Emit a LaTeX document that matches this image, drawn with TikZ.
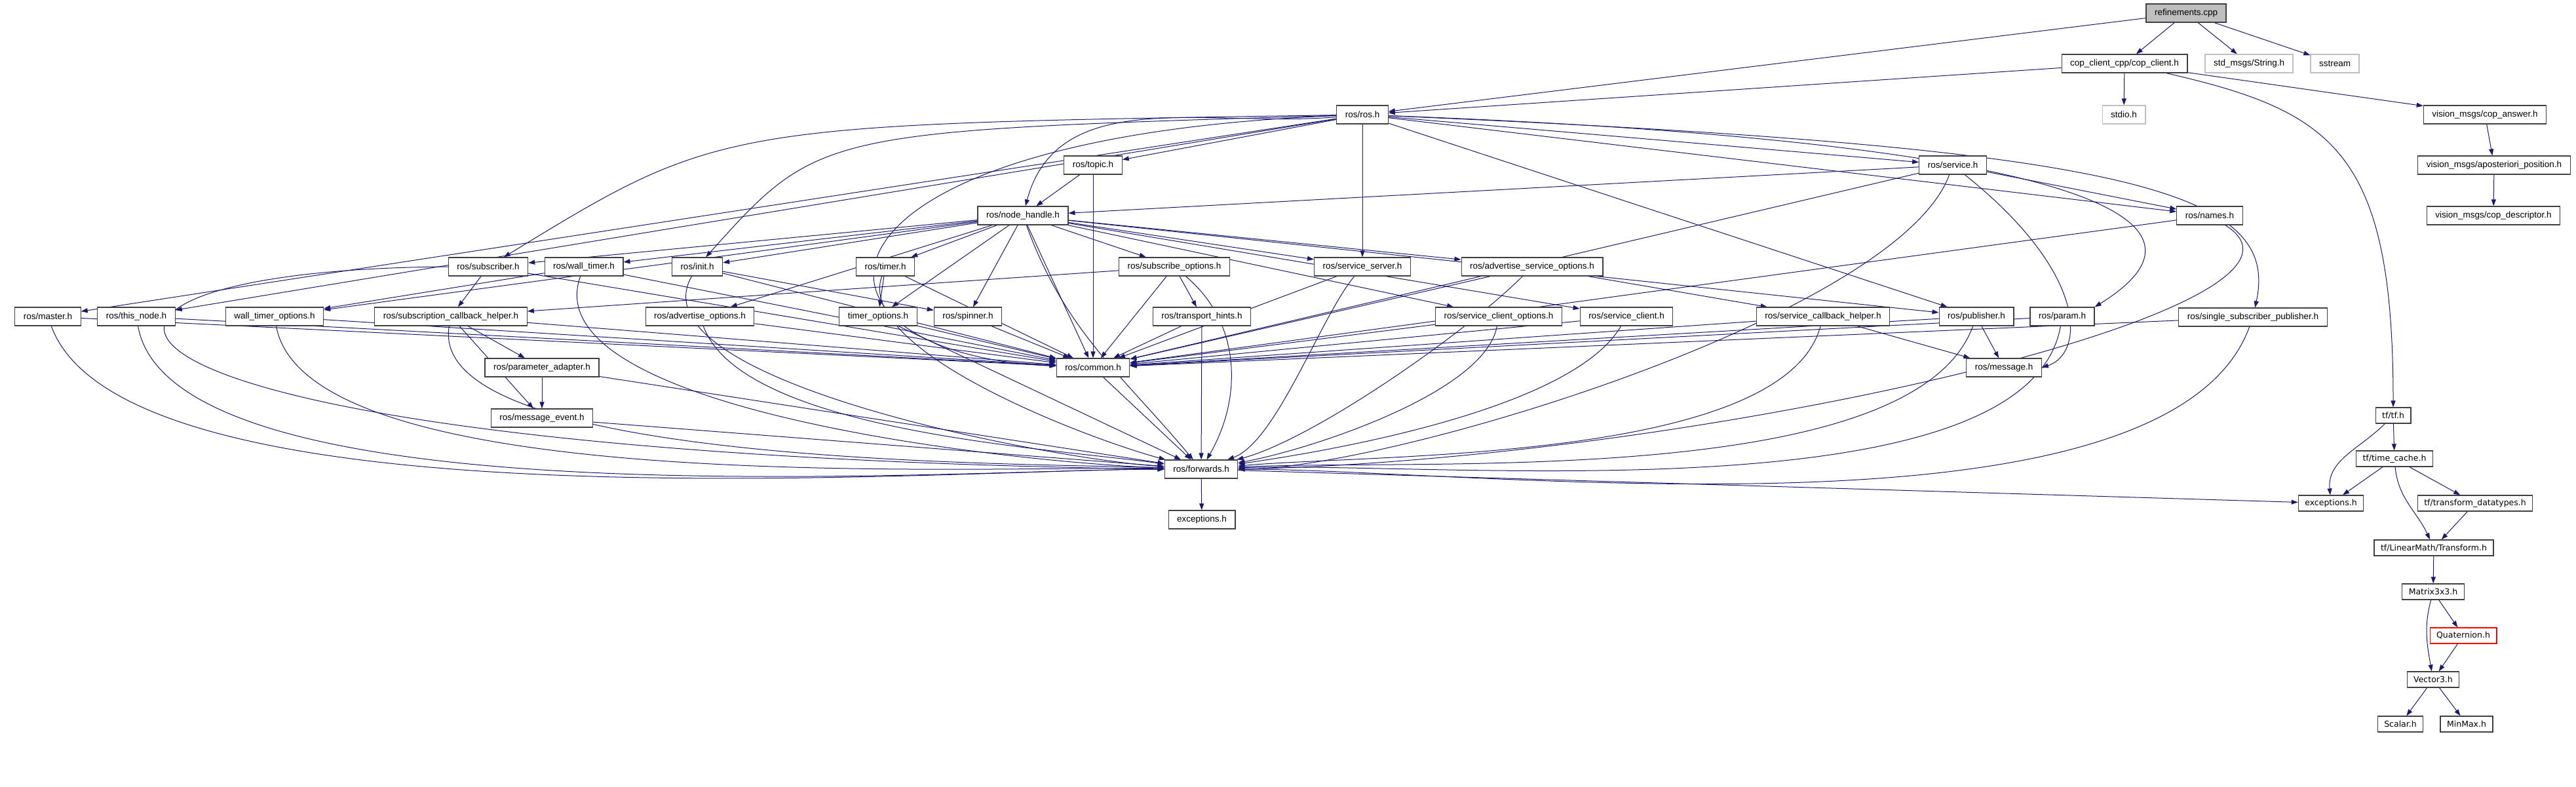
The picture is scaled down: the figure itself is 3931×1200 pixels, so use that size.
\documentclass[tikz,border=0pt]{standalone}
\usepackage{fontspec}
\setmainfont{Liberation Sans}
\newfontfamily\tffont{DejaVu Sans}
\usetikzlibrary{arrows.meta,backgrounds}
\definecolor{edgeblue}{HTML}{191970}
\definecolor{boxgray}{HTML}{404040}
\definecolor{rootgray}{HTML}{BFBFBF}
\begin{document}
\begin{tikzpicture}[x=0.25pt,y=0.25pt,
    file/.style={draw=boxgray,line width=0.3pt,fill=white,
      font=\fontsize{3.375}{4}\selectfont,inner xsep=3.25pt,inner ysep=0pt,minimum height=7pt},
    root/.style={file,fill=rootgray},
    extfile/.style={file,draw=rootgray},
    tffile/.style={file,font=\tffont\fontsize{3.125}{3.6}\selectfont,inner xsep=2.5pt,minimum height=6pt},
    cutfile/.style={tffile,draw=red},
    inc/.style={draw=edgeblue,line width=0.25pt,-{Triangle[length=2.5pt,width=1.75pt]}}]
    \useasboundingbox (0,0) rectangle (3931,-1200);
    % top of the graph
    \node[root] (refcpp) at (3336,-20) {refinements.cpp};
    \node[file] (copclient) at (3242,-97) {cop\_client\_cpp/cop\_client.h};
    \node[extfile] (stdstring) at (3432,-97) {std\_msgs/String.h};
    \node[extfile] (sstream) at (3563,-97) {sstream};
    \node[file] (rosh) at (2079,-175) {ros/ros.h};
    \node[extfile] (stdio) at (3241,-175) {stdio.h};
    \node[file] (copanswer) at (3792,-175) {vision\_msgs/cop\_answer.h};
    \node[file] (topic) at (1668,-252) {ros/topic.h};
    \node[file] (service) at (2980,-252) {ros/service.h};
    \node[file] (apost) at (3806,-252) {vision\_msgs/aposteriori\_position.h};
    \node[file] (nodehandle) at (1561,-329) {ros/node\_handle.h};
    \node[file] (names) at (3372,-329) {ros/names.h};
    \node[file] (copdesc) at (3805,-329) {vision\_msgs/cop\_descriptor.h};
    % ros headers
    \node[file] (subscriber) at (745,-407) {ros/subscriber.h};
    \node[file] (walltimer) at (891,-407) {ros/wall\_timer.h};
    \node[file] (init) at (1064,-407) {ros/init.h};
    \node[file] (timer) at (1351,-407) {ros/timer.h};
    \node[file] (subopts) at (1792,-407) {ros/subscribe\_options.h};
    \node[file] (srvserver) at (2079,-407) {ros/service\_server.h};
    \node[file] (advsrvopts) at (2338,-407) {ros/advertise\_service\_options.h};
    \node[file] (master) at (73,-483) {ros/master.h};
    \node[file] (thisnode) at (208,-483) {ros/this\_node.h};
    \node[file] (wtopts) at (419,-483) {wall\_timer\_options.h};
    \node[file] (subcbhelper) at (688,-483) {ros/subscription\_callback\_helper.h};
    \node[file] (advopts) at (1068,-483) {ros/advertise\_options.h};
    \node[file] (timeropts) at (1340,-483) {timer\_options.h};
    \node[file] (spinner) at (1477,-483) {ros/spinner.h};
    \node[file] (hints) at (1834,-483) {ros/transport\_hints.h};
    \node[file] (srvclientopts) at (2287,-483) {ros/service\_client\_options.h};
    \node[file] (srvclient) at (2482,-483) {ros/service\_client.h};
    \node[file] (srvcbhelper) at (2782,-483) {ros/service\_callback\_helper.h};
    \node[file] (publisher) at (3016,-483) {ros/publisher.h};
    \node[file] (param) at (3147,-483) {ros/param.h};
    \node[file] (singlepub) at (3438,-484) {ros/single\_subscriber\_publisher.h};
    \node[file] (paramadapter) at (827,-561) {ros/parameter\_adapter.h};
    \node[file] (common) at (1668,-561) {ros/common.h};
    \node[file] (message) at (3058,-561) {ros/message.h};
    \node[file] (msgevent) at (827,-638) {ros/message\_event.h};
    \node[file] (forwards) at (1833,-716) {ros/forwards.h};
    \node[file] (rosexc) at (1834,-793) {exceptions.h};
    % tf headers
    \node[tffile] (tf) at (3652,-634) {tf/tf.h};
    \node[tffile] (timecache) at (3654,-700) {tf/time\_cache.h};
    \node[tffile] (tfexc) at (3557,-768) {exceptions.h};
    \node[tffile] (datatypes) at (3777,-768) {tf/transform\_datatypes.h};
    \node[tffile] (transform) at (3714,-836) {tf/LinearMath/Transform.h};
    \node[tffile] (matrix) at (3713,-903) {Matrix3x3.h};
    \node[cutfile] (quaternion) at (3759,-970) {Quaternion.h};
    \node[tffile] (vector) at (3713,-1037) {Vector3.h};
    \node[tffile] (scalar) at (3663,-1105) {Scalar.h};
    \node[tffile] (minmax) at (3764,-1105) {MinMax.h};

    \begin{scope}[on background layer]
    % includes of the top files
    \draw[inc] (refcpp) -- (rosh);
    \draw[inc] (refcpp) -- (copclient);
    \draw[inc] (refcpp) -- (stdstring);
    \draw[inc] (refcpp) -- (sstream);
    \draw[inc] (copclient) -- (rosh);
    \draw[inc] (copclient) -- (stdio);
    \draw[inc] (copclient) -- (copanswer);
    \draw[inc] (copclient) .. controls (3560,-170) and (3652,-230) .. (tf);
    \draw[inc] (copanswer) -- (apost);
    \draw[inc] (apost) -- (copdesc);
    % ros/ros.h
    \draw[inc] (rosh) -- (topic);
    \draw[inc] (rosh) to[out=185,in=75] (nodehandle);
    \draw[inc] (rosh) .. controls (1100,-190) .. (subscriber);
    \draw[inc] (rosh) -- (master);
    \draw[inc] (rosh) -- (thisnode);
    \draw[inc] (rosh) .. controls (1250,-200) .. (init);
    \draw[inc] (rosh) .. controls (1190,-210) and (1190,-540) .. (common);
    \draw[inc] (rosh) -- (srvserver);
    \draw[inc] (rosh) -- (service);
    \draw[inc] (rosh) -- (names);
    \draw[inc] (rosh) -- (publisher);
    \draw[inc] (rosh) .. controls (3150,-215) and (3420,-330) .. (param.north east);
    \draw[inc] (rosh) .. controls (3250,-225) and (3480,-290) .. (singlepub);
    % ros/topic.h and ros/service.h
    \draw[inc] (topic) -- (nodehandle);
    \draw[inc] (topic) -- (common);
    \draw[inc] (service) -- (nodehandle);
    \draw[inc] (service) -- (common);
    \draw[inc] (service) -- (names);
    \draw[inc] (service) .. controls (3190,-420) and (3180,-540) .. (message.east);
    \draw[inc] (service) to[out=-110,in=0,looseness=0.5] (forwards);
    % ros/node_handle.h
    \draw[inc] (nodehandle) -- (subscriber);
    \draw[inc] (nodehandle) -- (walltimer);
    \draw[inc] (nodehandle) -- (init);
    \draw[inc] (nodehandle) -- (timer);
    \draw[inc] (nodehandle) -- (subopts);
    \draw[inc] (nodehandle) -- (srvserver);
    \draw[inc] (nodehandle) -- (advsrvopts);
    \draw[inc] (nodehandle) -- (advopts);
    \draw[inc] (nodehandle) -- (timeropts);
    \draw[inc] (nodehandle) -- (spinner);
    \draw[inc] (nodehandle) -- (srvclientopts);
    \draw[inc] (nodehandle) -- (srvclient);
    \draw[inc] (nodehandle) -- (publisher);
    \draw[inc] (nodehandle) -- (wtopts);
    \draw[inc] (nodehandle) -- (common);
    \draw[inc] (nodehandle) to[out=-70,in=130] (forwards);
    % second row
    \draw[inc] (names) -- (common);
    \draw[inc] (names) .. controls (3600,-470) and (2600,-700) .. (forwards.east);
    \draw[inc] (subscriber) -- (subcbhelper);
    \draw[inc] (subscriber) -- (common);
    \draw[inc] (subscriber.west) .. controls (-40,-412) and (30,-690) .. (forwards.west);
    \draw[inc] (walltimer) -- (wtopts);
    \draw[inc] (walltimer) -- (common);
    \draw[inc] (walltimer) to[out=-110,in=178,looseness=0.6] (forwards);
    \draw[inc] (init) -- (spinner);
    \draw[inc] (init) -- (common);
    \draw[inc] (init) to[out=-120,in=176,looseness=0.6] (forwards);
    \draw[inc] (timer) -- (timeropts);
    \draw[inc] (timer) -- (common);
    \draw[inc] (timer) to[out=-110,in=165,looseness=0.6] (forwards);
    \draw[inc] (subopts) -- (hints);
    \draw[inc] (subopts) -- (subcbhelper);
    \draw[inc] (subopts) -- (common);
    \draw[inc] (subopts) to[out=-40,in=60] (forwards);
    \draw[inc] (srvserver) -- (common);
    \draw[inc] (srvserver) to[out=-130,in=20,looseness=0.6] (forwards);
    \draw[inc] (advsrvopts) -- (srvcbhelper);
    \draw[inc] (advsrvopts) -- (common);
    \draw[inc] (advsrvopts) to[out=-135,in=15,looseness=0.6] (forwards);
    % third row
    \draw[inc] (master) -- (common);
    \draw[inc] (master) to[out=-70,in=180,looseness=0.5] (forwards);
    \draw[inc] (thisnode) -- (common);
    \draw[inc] (thisnode) to[out=-80,in=180,looseness=0.5] (forwards);
    \draw[inc] (wtopts) -- (common);
    \draw[inc] (wtopts) to[out=-80,in=179,looseness=0.5] (forwards);
    \draw[inc] (subcbhelper) -- (paramadapter);
    \draw[inc] (subcbhelper) -- (msgevent);
    \draw[inc] (subcbhelper) -- (common);
    \draw[inc] (subcbhelper) to[out=-100,in=178,looseness=0.5] (forwards);
    \draw[inc] (advopts) -- (common);
    \draw[inc] (advopts) to[out=-70,in=172,looseness=0.6] (forwards);
    \draw[inc] (timeropts) -- (common);
    \draw[inc] (timeropts) -- (forwards);
    \draw[inc] (spinner) -- (common);
    \draw[inc] (hints) -- (common);
    \draw[inc] (hints) -- (forwards);
    \draw[inc] (srvclientopts) -- (common);
    \draw[inc] (srvclientopts) to[out=-100,in=10,looseness=0.6] (forwards);
    \draw[inc] (srvclient) -- (common);
    \draw[inc] (srvclient) to[out=-120,in=8,looseness=0.6] (forwards);
    \draw[inc] (srvcbhelper) -- (message);
    \draw[inc] (srvcbhelper) -- (common);
    \draw[inc] (srvcbhelper) to[out=-105,in=5,looseness=0.6] (forwards);
    \draw[inc] (publisher) -- (message);
    \draw[inc] (publisher) -- (common);
    \draw[inc] (publisher) to[out=-110,in=3,looseness=0.6] (forwards);
    \draw[inc] (param) -- (common);
    \draw[inc] (param) to[out=-100,in=2,looseness=0.6] (forwards);
    \draw[inc] (singlepub) -- (common);
    \draw[inc] (singlepub) to[out=-110,in=0,looseness=0.6] (forwards);
    % lower ros headers
    \draw[inc] (paramadapter) -- (msgevent);
    \draw[inc] (paramadapter) -- (forwards);
    \draw[inc] (msgevent) -- (forwards);
    \draw[inc] (common) -- (forwards);
    \draw[inc] (forwards) -- (rosexc);
    \draw[inc] (forwards) -- (tfexc);
    % tf
    \draw[inc] (tf) to[out=-135,in=95] (tfexc);
    \draw[inc] (tf) -- (timecache);
    \draw[inc] (timecache) -- (tfexc);
    \draw[inc] (timecache) -- (datatypes);
    \draw[inc] (timecache) to[out=-85,in=115] (transform);
    \draw[inc] (datatypes) -- (transform);
    \draw[inc] (transform) -- (matrix);
    \draw[inc] (matrix) -- (quaternion);
    \draw[inc] (matrix) to[out=-105,in=100] (vector);
    \draw[inc] (quaternion) -- (vector);
    \draw[inc] (vector) -- (scalar);
    \draw[inc] (vector) -- (minmax);
    \end{scope}
\end{tikzpicture}
\end{document}
